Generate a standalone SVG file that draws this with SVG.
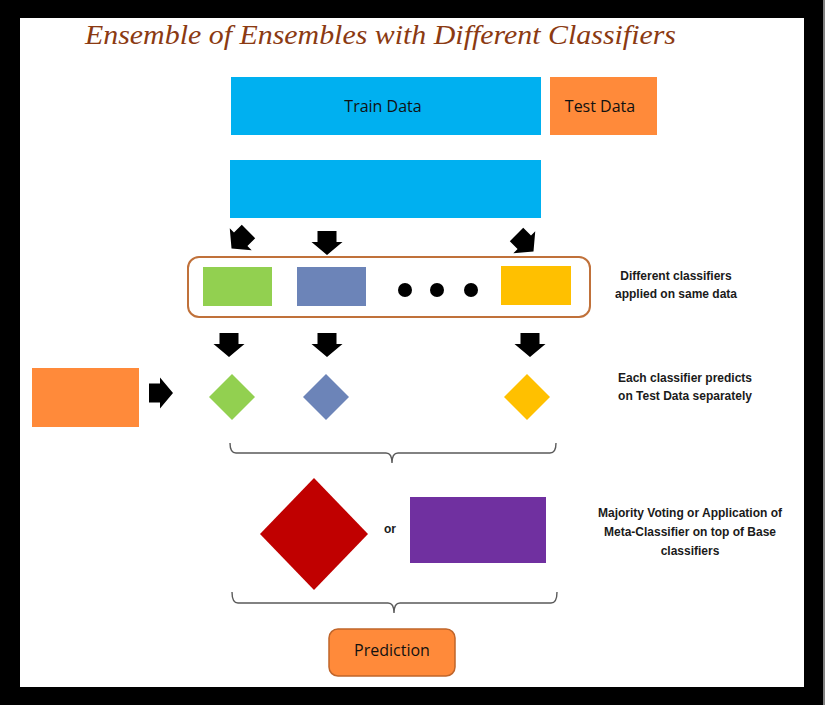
<svg xmlns="http://www.w3.org/2000/svg" width="825" height="705" viewBox="0 0 825 705">
<style>
.lbl{font-family:"Liberation Sans",Arial,sans-serif;font-size:12px;font-weight:bold;fill:#1a1a1a;text-anchor:middle}
.box{font-family:"Open Sans","Liberation Sans",sans-serif;font-size:16px;fill:#111;text-anchor:middle}
.brace{fill:none;stroke:#5a5a5a;stroke-width:1.4}
</style>
<defs>
<path id="arr" d="M-9.5,-12 H9.5 V-1 H15.5 L0,12 L-15.5,-1 H-9.5 Z" fill="#000"/>
</defs>
<rect x="0" y="0" width="825" height="705" fill="#000"/>
<rect x="823" y="0" width="2" height="705" fill="#808080"/>
<rect x="20" y="18" width="784" height="669" fill="#fff"/>
<text x="85" y="44" font-family="'Liberation Serif','Times New Roman',serif" font-style="italic" font-size="27" fill="#8B3A12" textLength="591" lengthAdjust="spacingAndGlyphs">Ensemble of Ensembles with Different Classifiers</text>
<g id="train"><rect x="231" y="77" width="310" height="58" fill="#00B0F0"/><text class="box" x="383" y="112">Train Data</text></g>
<g id="test"><rect x="550" y="77" width="107" height="58" fill="#FF8A3A"/><text class="box" x="600" y="112">Test Data</text></g>
<g id="train2"><rect x="230" y="160" width="311" height="58" fill="#00B0F0"/></g>
<g id="classifiers">
<rect x="188" y="257" width="402" height="60" rx="11" fill="none" stroke="#C0713A" stroke-width="2"/>
<rect x="203" y="267" width="69" height="39" fill="#92D050"/>
<rect x="297" y="267" width="69" height="39" fill="#6C84B8"/>
<circle cx="405" cy="290" r="7" fill="#000"/>
<circle cx="437" cy="290" r="7" fill="#000"/>
<circle cx="471" cy="290" r="7" fill="#000"/>
<rect x="501" y="266" width="70" height="39" fill="#FFC000"/>
</g>
<g id="testdata2"><rect x="32" y="368" width="107" height="59" fill="#FF8A3A"/></g>
<g id="d1"><polygon points="232,374 255,397 232,420 209,397" fill="#92D050"/></g>
<g id="d2"><polygon points="326,374 349,397 326,420 303,397" fill="#6C84B8"/></g>
<g id="d3"><polygon points="527,374 550,397 527,420 504,397" fill="#FFC000"/></g>
<g id="vote"><polygon points="314,478 368,534 314,590 260,534" fill="#C00000"/></g>
<text class="lbl" x="390" y="533" font-size="12">or</text>
<g id="meta"><rect x="410" y="497" width="136" height="66" fill="#7030A0"/></g>
<g id="pred"><rect x="329" y="629" width="126" height="47" rx="9" fill="#FF8A3A" stroke="#C0652A" stroke-width="1.5"/><text class="box" x="392" y="656">Prediction</text></g>
<g id="connectors">
<use href="#arr" transform="translate(240,240) rotate(45)"/>
<use href="#arr" transform="translate(327,243)"/>
<use href="#arr" transform="translate(525,243) rotate(-45)"/>
<use href="#arr" transform="translate(229,345)"/>
<use href="#arr" transform="translate(327,345)"/>
<use href="#arr" transform="translate(530,345)"/>
<use href="#arr" transform="translate(161,393) rotate(-90)"/>
<path class="brace" d="M230,443 Q230,453 236,453 H386 Q392,453 392,463 Q392,453 398,453 H550 Q556,453 556,443"/>
<path class="brace" d="M232,592 Q232,603 238,603 H388 Q394,603 394,613 Q394,603 400,603 H551 Q557,603 557,592"/>
</g>
<g id="labels">
<text class="lbl" x="676" y="280">Different classifiers</text>
<text class="lbl" x="676" y="298">applied on same data</text>
<text class="lbl" x="685" y="382">Each classifier predicts</text>
<text class="lbl" x="685" y="400">on Test Data separately</text>
<text class="lbl" x="690" y="517">Majority Voting or Application of</text>
<text class="lbl" x="690" y="536">Meta-Classifier on top of Base</text>
<text class="lbl" x="690" y="555">classifiers</text>
</g>
</svg>
